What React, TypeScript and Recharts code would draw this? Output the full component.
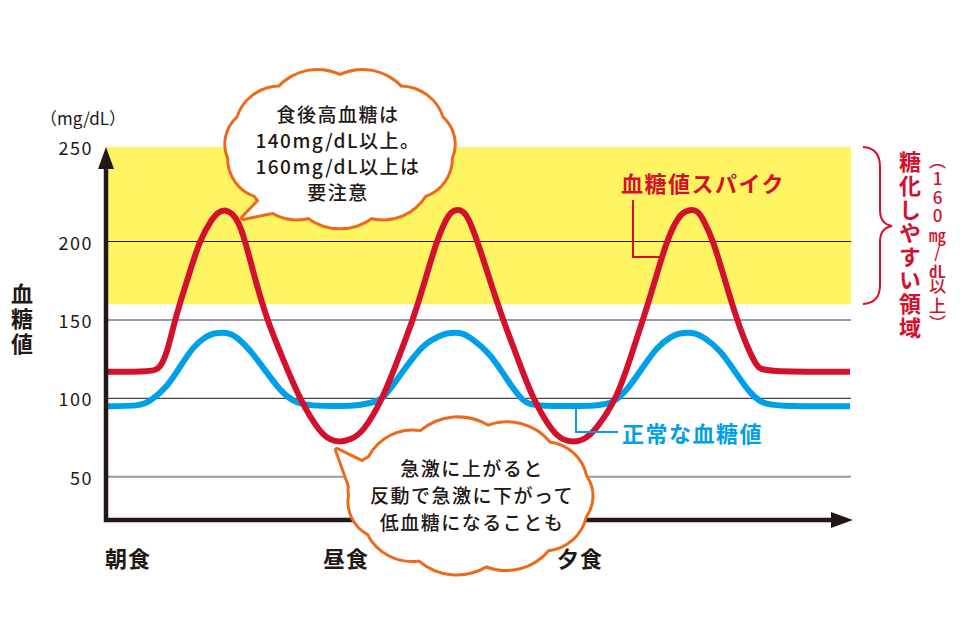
import { LineChart, Line, XAxis, YAxis, ReferenceLine, ReferenceArea } from "recharts";

// values (mg/dL), x in minutes-ish units from the axis start
const redTimes = [0, 46, 54, 61, 67, 74, 84, 94, 106, 112, 119, 126, 132, 139, 149, 161, 177, 194, 214, 224, 234, 244, 257, 277, 292, 307, 319, 331, 341, 346, 352, 357, 362, 371, 384, 397, 412, 427, 447, 457, 467, 478, 489, 511, 524, 537, 549, 561, 572, 579, 586, 592, 597, 607, 619, 631, 641, 651, 657, 744];
const redValues = [117, 117, 119, 129, 145, 161, 181, 201, 212, 215.5, 217, 215, 211, 201, 176, 150, 125, 99, 78, 73.5, 72, 73.5, 78, 100, 125, 150, 175, 201, 213, 216, 217, 216, 213, 201, 175, 150, 125, 99, 78, 73.5, 72, 73.5, 79, 100, 125, 150, 175, 201, 213, 216, 217, 216, 212, 201, 175, 150, 133, 120, 117, 117];
const blueTimes = [0, 34, 44, 61, 74, 87, 101, 108, 116, 124, 131, 144, 159, 174, 187, 201, 251, 264, 277, 292, 307, 319, 334, 341, 349, 357, 364, 384, 401, 417, 431, 494, 507, 521, 536, 551, 566, 574, 582, 590, 598, 614, 629, 644, 656, 667, 744];
const blueValues = [95, 95, 98, 107, 120, 133, 140, 141.5, 142, 141.5, 139, 131, 118, 105, 98, 95, 95, 97, 99, 113, 126, 135, 140, 141.5, 142, 141.5, 139, 129, 112, 97, 95, 95, 97, 105, 119, 133, 140, 141.5, 142, 141.5, 139, 131, 117, 103, 97, 95, 95];

const yTicks = [50, 100, 150, 200, 250];
const gridValues = [50, 100, 150, 200];
const mealTimes = [22, 240, 474];
const mealLabels = ["朝食", "昼食", "夕食"];
const zoneFrom = 160;
const zoneTo = 250;
const yFloor = 22.4;
const xEnd = 745;

// the printed axis gives 200-250 more room than the lower bands
const STRETCH = 1.2056;
const disp = (v: number) => (v <= 200 ? v : 200 + (v - 200) * STRETCH);

const redData = redTimes.map((t, i) => ({ t, v: disp(redValues[i]) }));
const blueData = blueTimes.map((t, i) => ({ t, v: disp(blueValues[i]) }));

const INK = "#231815";
const RED = "#D3112F";
const BLUE = "#00A0E9";
const ORANGE = "#EC6A1C";
const FONT = '"Noto Sans CJK JP", "Noto Sans", sans-serif';

// eslint-disable-next-line @typescript-eslint/no-explicit-any
const AxisArrow = (props: any) => {
  const { x1, y1, x2, y2 } = props;
  const dx = x2 - x1, dy = y2 - y1;
  const len = Math.hypot(dx, dy) || 1;
  const ux = dx / len, uy = dy / len;
  const head = 22, half = 8;
  const bx = x2 - ux * head, by = y2 - uy * head;
  return (
    <g>
      <line x1={x1 - ux * 2} y1={y1 - uy * 2} x2={bx + ux * 2} y2={by + uy * 2} stroke={INK} strokeWidth={4.5} />
      <polygon points={`${x2},${y2} ${bx - uy * half},${by + ux * half} ${bx + uy * half},${by - ux * half}`} fill={INK} />
    </g>
  );
};

// eslint-disable-next-line @typescript-eslint/no-explicit-any
const MealTick = ({ x, y, payload }: any) => (
  <text x={x} y={y + 29} textAnchor="middle" dominantBaseline="central" fill={INK} fontSize={22} fontWeight={700} fontFamily={FONT} letterSpacing={1}>
    {mealLabels[mealTimes.indexOf(payload.value)]}
  </text>
);

// eslint-disable-next-line @typescript-eslint/no-explicit-any
const ValueTick = ({ x, y, payload, index }: any) => (
  <text x={x - 5} y={y} textAnchor="end" dominantBaseline="central" fill={INK} fontSize={18} fontFamily={FONT} letterSpacing={1.5}>
    {yTicks[index] ?? payload.value}
  </text>
);

function cloudPath(cx: number, cy: number, rx: number, ry: number, n: number, phase = 0) {
  const pts: [number, number][] = [];
  for (let i = 0; i < n; i++) {
    const a = -Math.PI / 2 + phase + (i * 2 * Math.PI) / n;
    pts.push([cx + rx * Math.cos(a), cy + ry * Math.sin(a)]);
  }
  let d = `M${pts[0][0]},${pts[0][1]}`;
  for (let i = 0; i < n; i++) {
    const [xa, ya] = pts[i];
    const [xb, yb] = pts[(i + 1) % n];
    const r = Math.hypot(xb - xa, yb - ya) * 0.85;
    d += ` A${r},${r} 0 0 1 ${xb},${yb}`;
  }
  return d + " Z";
}

function Bubble({ body, tail, lines, cx, y0, step }: { body: string; tail: string; lines: string[]; cx: number; y0: number; step: number }) {
  return (
    <g>
      <path d={body} fill="#fff" stroke={ORANGE} strokeWidth={6} />
      <path d={tail} fill="#fff" stroke={ORANGE} strokeWidth={6} strokeLinejoin="round" />
      <path d={body} fill="#fff" />
      <path d={tail} fill="#fff" />
      {lines.map((s, i) => (
        <text key={i} x={cx} y={y0 + i * step} textAnchor="middle" dominantBaseline="central" fill={INK} fontSize={19} fontWeight={500} fontFamily={FONT} letterSpacing={1.5}>
          {s}
        </text>
      ))}
    </g>
  );
}

function Annotations() {
  return (
    <svg width={960} height={640} style={{ position: "absolute", left: 0, top: 0, pointerEvents: "none" }}>
      <text x={40} y={117} dominantBaseline="central" fill={INK} fontSize={17} fontFamily={FONT}>（mg/dL）</text>

      {/* series labels */}
      <polyline points="633,200 633,257 664,257" fill="none" stroke={RED} strokeWidth={2} />
      <text x={621} y={182} dominantBaseline="central" fill={RED} fontSize={22} fontWeight={700} fontFamily={FONT} letterSpacing={1.5}>血糖値スパイク</text>
      <polyline points="576,409 576,432 618,432" fill="none" stroke={BLUE} strokeWidth={2} />
      <text x={622} y={432} dominantBaseline="central" fill={BLUE} fontSize={22} fontWeight={700} fontFamily={FONT} letterSpacing={1.5}>正常な血糖値</text>

      {/* zone brace */}
      <path d="M863,147 Q880,148 880,167 L880,210 Q880,224 892,226 Q880,228 880,242 L880,285 Q880,303 863,304" fill="none" stroke={RED} strokeWidth={2} />

      {/* callouts */}
      <Bubble
        body={cloudPath(340, 148, 112, 72, 11)}
        tail="M262,198 L243,218 L292,208 Z"
        lines={["食後高血糖は", "140mg/dL以上。", "160mg/dL以上は", "要注意"]}
        cx={338} y0={113} step={26}
      />
      <Bubble
        body={cloudPath(470, 496, 120, 70, 11, 0.15)}
        tail="M352,492 L337,450 L378,470 Z"
        lines={["急激に上がると", "反動で急激に下がって", "低血糖になることも"]}
        cx={472} y0={467} step={27}
      />
    </svg>
  );
}

const vertical = { position: "absolute", writingMode: "vertical-rl", lineHeight: 1, fontFamily: FONT, whiteSpace: "nowrap" } as const;
const combined = { textCombineUpright: "all", fontSize: 17 } as const;

export default function App() {
  return (
    <div style={{ position: "absolute", left: 0, top: 0, width: 960, height: 640, background: "#fff" }}>
      <LineChart width={960} height={640} margin={{ top: 147, right: 109, bottom: 60, left: 0 }}>
        <XAxis
          type="number"
          dataKey="t"
          domain={[0, xEnd]}
          ticks={mealTimes}
          axisLine={false}
          tickLine={false}
          tick={MealTick}
          height={60}
          allowDataOverflow
        />
        <YAxis
          type="number"
          domain={[yFloor, disp(250)]}
          ticks={yTicks.map(disp)}
          axisLine={false}
          tickLine={false}
          tick={ValueTick}
          width={106}
          allowDataOverflow
        />
        <ReferenceArea x1={0} x2={xEnd} y1={disp(zoneFrom)} y2={disp(zoneTo)} fill="#FFF462" fillOpacity={1} stroke="none" ifOverflow="visible" />
        {gridValues.map(v => (
          <ReferenceLine
            key={v}
            y={disp(v)}
            stroke={v % 100 === 0 ? INK : "#9A9A9A"}
            strokeWidth={v % 100 === 0 ? 1 : 2}
            ifOverflow="visible"
          />
        ))}
        <Line data={blueData} dataKey="v" type="basis" stroke={BLUE} strokeWidth={6} dot={false} activeDot={false} isAnimationActive={false} />
        <Line data={redData} dataKey="v" type="basis" stroke={RED} strokeWidth={6} dot={false} activeDot={false} isAnimationActive={false} />
        <ReferenceLine segment={[{ x: 0, y: yFloor }, { x: xEnd + 2, y: yFloor }]} shape={AxisArrow} ifOverflow="visible" />
        <ReferenceLine segment={[{ x: 0, y: yFloor }, { x: 0, y: disp(250) }]} shape={AxisArrow} ifOverflow="visible" />
      </LineChart>
      <Annotations />
      <div style={{ ...vertical, left: 11, top: 283, fontSize: 22, fontWeight: 700, color: INK, letterSpacing: 3 }}>血糖値</div>
      <div style={{ ...vertical, left: 899, top: 151, fontSize: 22, fontWeight: 700, color: RED, letterSpacing: 1.6 }}>糖化しやすい領域</div>
      <div style={{ ...vertical, left: 929, top: 152, fontSize: 17, fontWeight: 500, color: RED, textOrientation: "upright", letterSpacing: 1.5 }}>
        （160<span style={combined}>mg</span>/<span style={combined}>dL</span>以上）
      </div>
    </div>
  );
}
